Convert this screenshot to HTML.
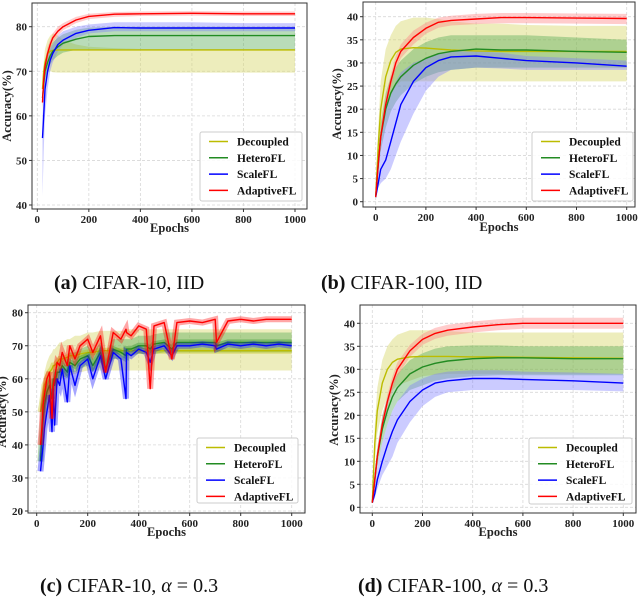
<!DOCTYPE html>
<html><head><meta charset="utf-8">
<style>
html,body{margin:0;padding:0;background:#fff;}
svg{display:block;font-family:"Liberation Serif",serif;}
.tk{font-size:11px;font-weight:bold;fill:#222;}
.al{font-size:12.5px;font-weight:bold;fill:#222;}
.lg{font-size:11.5px;font-weight:bold;fill:#111;}
.cap{font-size:20px;fill:#111;}
</style></head>
<body>
<svg id="fig" width="640" height="601" viewBox="0 0 640 601" xmlns="http://www.w3.org/2000/svg">
<text class="cap" x="54" y="289"><tspan font-weight="bold">(a)</tspan> CIFAR-10, IID</text>
<text class="cap" x="321" y="289"><tspan font-weight="bold">(b)</tspan> CIFAR-100, IID</text>
<text class="cap" x="40" y="592"><tspan font-weight="bold">(c)</tspan> CIFAR-10, <tspan font-style="italic">α</tspan> = 0.3</text>
<text class="cap" x="358" y="592"><tspan font-weight="bold">(d)</tspan> CIFAR-100, <tspan font-style="italic">α</tspan> = 0.3</text>
</svg>
<script>
// ---------- Panel A data (CIFAR-10, IID) ----------
const epA=[20,25,30,40,50,60,80,100,150,200,300,400,600,800,1000];
const decA=[66,70,72,74,74.5,74.7,74.8,74.8,74.8,74.8,74.8,74.8,74.8,74.8,74.8];
const decLoA=[64,67,69,70,70,69.8,69.7,69.7,69.7,69.7,69.7,69.7,69.7,69.7,69.7];
const decHiA=[68,72,75,77,78,78.5,78,77,76,75.5,75.2,75,75,75,75];
const hetA=[64,67,70,72,73.5,74.5,75.5,76.3,77.2,77.8,78,78,78,78,78];
const hetLoA=[62,65,68,70,71.5,72.5,73.5,74.2,74.8,74.8,74.8,74.8,74.8,74.8,74.8];
const hetHiA=[66,69,72,74,75.5,76.5,77.5,78.3,79.3,79.8,80,80,80,80,80];
const scaA=[55,60,66,70,72.5,74,76,77,78.5,79.2,79.8,79.7,79.7,79.7,79.7];
const scaLoA=[42,52,60,66,70,72,74.5,76,77.5,78.5,79,79,79,79,79];
const scaHiA=[60,64,69,73,75,76,78,79,80,80.5,81,81,81,80.8,80.8];
const adaA=[63,68,71,74,76,77.5,79,80,81.5,82.3,82.8,82.9,83,82.9,82.9];
const adaLoA=[61,66,69.5,72.5,75,76.5,78,79.2,80.8,81.7,82.2,82.4,82.5,82.4,82.4];
const adaHiA=[65,70,72.5,75.5,77,78.5,80,80.8,82.2,82.9,83.3,83.4,83.5,83.4,83.4];
const yTicksA=[40,50,60,70,80];
// ---------- Panel B data (CIFAR-100, IID) ----------
const epB=[0,10,20,40,60,80,100,150,200,250,300,400,500,600,800,1000];
const decB=[1,12,20,27,30.5,32.3,33,33.3,33.2,33,32.8,32.6,32.5,32.5,32.5,32.5];
const decLoB=[1,8,14,20,23,25,26,26,26,26,26,26,26,26,26,26];
const decHiB=[1,16,26,33,36,38,39,39.8,39.8,39.5,39,38.5,38.5,38.2,38,38];
const hetB=[1,8,14,20,23.5,25.5,27,29.5,31,32,32.5,33,32.8,32.8,32.5,32.3];
const hetLoB=[1,6,11,16,19.5,21.5,23,25.5,27,28,28.5,29,29,29,29,29];
const hetHiB=[1,10,17,23.5,27,29,30.5,33,34.5,35.5,36,36,36,36,35.5,35];
const scaB=[1,4,7,9,13,17,21,26,29,30.5,31.3,31.5,31,30.5,30,29.3];
const scaLoB=[1,3,4,5,7,10,13,19,24,27,28.5,29,28.8,28.5,28.5,28.5];
const scaHiB=[1,8,15,20,23,26,28,30,31,32,32.5,32.5,32.2,31.5,31,30.5];
const adaB=[1,8,14,21,26,30,32.5,35.5,37.5,38.8,39.2,39.5,39.8,39.8,39.7,39.6];
const adaLoB=[1,6.5,12.5,19.5,24.5,28.5,31,34,36.3,37.6,38.1,38.4,38.6,38.6,38.5,38.4];
const adaHiB=[1,9.5,15.5,22.5,27.5,31.5,34,37,38.7,39.8,40.2,40.6,40.8,40.8,40.7,40.6];
const yTicksB=[0,5,10,15,20,25,30,35,40];
// ---------- Panel C data (CIFAR-10, alpha=0.3) ----------
const epC=[15,20,25,30,40,50,60,65,70,80,90,100,120,130,150,170,200,220,250,270,300,330,350,352,370,400,430,445,460,500,530,550,600,650,700,705,750,800,850,900,950,1000];
const adaC=[40,45,52,55,60,62,48,58,60,65,64,68,64,70,66,70,72,68,73,62,74,72,75,74,73,76,75,57,76,77,66,77,77.5,77,78,71,77.5,78,77.5,78,78,78];
const scaC=[32,36,40,45,50,55,44,57,46,60,58,63,53,64,58,64,66,60,67,60,68,66,54,68,67,69,68,65,69,70,67,70,70,70.5,70,69,70.5,70,70.5,70,70.5,70];
const hetC=[35,42,48,52,56,58,54,60,58,62,62,64,62,65,64,66,67,64,68,63,69,68,67,69,69,70,70,69,70.5,71,69,71,71,71,71,70,71,71,71,71,71,71];
const hetLoC=[33,40,45,49,53,55,52,57,56,59,60,61,60,62,62,63,64,62,65,62,66,66,65,67,67,67.5,67.5,67,67.5,68,67.5,68,68,68,68,68,68,68,68,68,68,68];
const hetHiC=[38,45,51,55,59,61,58,63,62,65,65,67,66,68,68,69,70,68,71,68,72,72,72,72,72,73,73,73,73.5,74,74,74,74,74,74,74,74,74,74,74,74,74];
const decC=[50,52,55,58,60,62,63,64,64,65,66,66,66.5,67,67,67.5,68,68,68.5,68.5,68.5,68.5,68.5,68.5,68.5,68.5,68.5,68.5,68.5,68.5,68.5,68.5,68.5,68.5,68.5,68.5,68.5,68.5,68.5,68.5,68.5,68.5];
const decLoC=[48,49,51,53,55,56,57,58,58,59,60,60,61,61,61.5,62,62.5,62.5,62.5,62.5,62.5,62.5,62.5,62.5,62.5,62.5,62.5,62.5,62.5,62.5,62.5,62.5,62.5,62.5,62.5,62.5,62.5,62.5,62.5,62.5,62.5,62.5];
const decHiC=[52,55,59,62,65,67,68,69,69,70,71,71,72,72,73,73,74,74,74.5,74.5,74.5,74.5,74.5,75,75,75,75,75,75,75,75,75,75,75,75,75,75,75,75,75,75,75];
const yTicksC=[20,30,40,50,60,70,80];
// ---------- Panel D data (CIFAR-100, alpha=0.3) ----------
const epD=[0,10,20,40,60,80,100,150,200,250,300,400,500,600,800,1000];
const decD=[1,14,21,27,30,31.5,32.2,32.7,32.8,32.8,32.8,32.7,32.7,32.6,32.5,32.4];
const decLoD=[1,10,16,21,24,25.5,26.5,27.5,28.5,28.8,29,29,29,29,29,29];
const decHiD=[1,18,26,32,35,36.5,37.5,38.5,38.5,38.5,38.3,38,38,38,38,38];
const hetD=[1,6,11,17,21,24,26,29,30.5,31.3,31.8,32.3,32.5,32.5,32.3,32.3];
const hetLoD=[1,5,9,14,18,21,23,25.5,26.5,27.5,28,28.5,28.7,28.7,28.7,28.7];
const hetHiD=[1,8,13,20,24,27,29,32,33.5,34.5,35,35.2,35.2,35,35,35];
const scaD=[1,3,6,10,13.5,16.5,19,23,25.5,27,27.5,28,28,27.8,27.5,27];
const scaLoD=[1,2,4,7,9,11,14,18.5,22,24,25,25.5,25.5,25.5,25.5,25.2];
const scaHiD=[1,5,9,14,18,21,23,26.5,28,29,29.5,29.8,29.8,29.5,29.3,29];
const adaD=[1,6,11,18,23,27,30,34,36.5,37.8,38.5,39.2,39.7,40,40,40];
const adaLoD=[1,4.5,9.5,16.5,21.5,25.5,28.5,32.7,35.3,36.6,37.3,38,38.5,38.8,38.8,38.8];
const adaHiD=[1,7.5,12.5,19.5,24.5,28.5,31.5,35.3,37.7,39,39.7,40.4,40.9,41.2,41.2,41.2];
const yTicksD=[0,5,10,15,20,25,30,35,40];
const xTicks=[0,200,400,600,800,1000];
const legendNames=["Decoupled","HeteroFL","ScaleFL","AdaptiveFL"];

const NS="http://www.w3.org/2000/svg";
const svg=document.getElementById('fig');
const COL={dec:"#bcbc00",het:"#228b22",sca:"#0000ff",ada:"#ff0000"};
const FILL={dec:"#d8d86a",het:"#4fa84f",sca:"#7c7cff",ada:"#ff8080"};
function mk(tag,attrs,parent){const e=document.createElementNS(NS,tag);for(const k in attrs)e.setAttribute(k,attrs[k]);(parent||svg).appendChild(e);return e;}

function panel(P){
  const g=mk('g',{});
  
  
  const xs=v=>P.x0+(v-0)/1000*(P.x1-P.x0);
  const ys=v=>P.ya+(v-P.ymin)/(P.ymax-P.ymin)*(P.yb-P.ya);
  xTicks.forEach(t=>{const l=mk('line',{x1:xs(t),x2:xs(t),y1:P.box[1],y2:P.box[3],stroke:"#d8d8d8","stroke-dasharray":"3,2","stroke-width":0.8},g);
    });
  P.yt.forEach(t=>{const l=mk('line',{x1:P.box[0],x2:P.box[2],y1:ys(t),y2:ys(t),stroke:"#d8d8d8","stroke-dasharray":"3,2","stroke-width":0.8},g);
    });
  P.series.forEach(s=>{
    if(!s.lo)return;
    let d='';
    P.ep.forEach((e,i)=>{d+=(i?'L':'M')+xs(e).toFixed(1)+','+ys(s.hi[i]).toFixed(1);});
    for(let i=P.ep.length-1;i>=0;i--)d+='L'+xs(P.ep[i]).toFixed(1)+','+ys(s.lo[i]).toFixed(1);
    const p=mk('path',{d:d+'Z',fill:FILL[s.k],"fill-opacity":s.k==='dec'?0.45:0.4,stroke:"none"},g);
    
  });
  P.series.forEach(s=>{
    let d='';P.ep.forEach((e,i)=>{d+=(i?'L':'M')+xs(e).toFixed(1)+','+ys(s.v[i]).toFixed(1);});
    if(P.halo){const h=mk('path',{d:d,fill:"none",stroke:COL[s.k],"stroke-opacity":0.35,"stroke-width":6},g);
      }
    const l=mk('path',{d:d,fill:"none",stroke:COL[s.k],"stroke-width":1.4,"stroke-linejoin":"round"},g);
    
  });
  const b=P.box;
  const fr=mk('rect',{x:b[0],y:b[1],width:b[2]-b[0],height:b[3]-b[1],fill:"none",stroke:"#333","stroke-width":1},g);
  
  xTicks.forEach(t=>{mk('line',{x1:xs(t),x2:xs(t),y1:b[3],y2:b[3]+3,stroke:"#333"},g);
    const tx=mk('text',{x:xs(t),y:b[3]+14,"text-anchor":"middle",class:"tk"},g);tx.textContent=t;
    });
  P.yt.forEach(t=>{mk('line',{x1:b[0]-3,x2:b[0],y1:ys(t),y2:ys(t),stroke:"#333"},g);
    const tx=mk('text',{x:b[0]-5,y:ys(t)+4,"text-anchor":"end",class:"tk"},g);tx.textContent=t;
    });
  const xl=mk('text',{x:(b[0]+b[2])/2,y:P.xly,"text-anchor":"middle",class:"al"},g);xl.textContent="Epochs";
  
  const yl=mk('text',{x:0,y:0,"text-anchor":"middle",class:"al",transform:`translate(${P.ylx},${P.yly}) rotate(-90)`},g);yl.textContent="Accuracy(%)";
  
  const L=P.leg;
  const lg=mk('g',{},g);
  
  mk('rect',{x:L[0],y:L[1],width:L[2]-L[0],height:L[3]-L[1],fill:"#fff","fill-opacity":0.85,stroke:"#ccc",rx:2},lg);
  ['dec','het','sca','ada'].forEach((k,i)=>{
    const yy=L[1]+9.5+i*16.3;
    mk('line',{x1:L[0]+9,x2:L[0]+28,y1:yy,y2:yy,stroke:COL[k],"stroke-width":1.5},lg);
    const t=mk('text',{x:L[0]+37,y:yy+4,class:"lg"},lg);t.textContent=legendNames[i];
    
  });
}

panel({id:'a',box:[32,3,307,209],x0:37.3,x1:295,ymin:40,ymax:80,ya:205,yb:26.7,yt:yTicksA,ep:epA,
  series:[{k:'dec',v:decA,lo:decLoA,hi:decHiA},{k:'het',v:hetA,lo:hetLoA,hi:hetHiA},{k:'sca',v:scaA,lo:scaLoA,hi:scaHiA},{k:'ada',v:adaA,lo:adaLoA,hi:adaHiA}],
  xly:232,ylx:11,yly:106,leg:[200,132,302,201]});
panel({id:'b',box:[363,2,635,207],x0:375.7,x1:626.7,ymin:0,ymax:40,ya:201.7,yb:16.7,yt:yTicksB,ep:epB,
  series:[{k:'dec',v:decB,lo:decLoB,hi:decHiB},{k:'het',v:hetB,lo:hetLoB,hi:hetHiB},{k:'sca',v:scaB,lo:scaLoB,hi:scaHiB},{k:'ada',v:adaB,lo:adaLoB,hi:adaHiB}],
  xly:231,ylx:341,yly:104,leg:[532,132,633,201]});
panel({id:'c',box:[28,305,305,513],x0:36.7,x1:291.7,ymin:20,ymax:80,ya:511,yb:312.7,yt:yTicksC,ep:epC,halo:true,
  series:[{k:'dec',v:decC,lo:decLoC,hi:decHiC},{k:'het',v:hetC,lo:hetLoC,hi:hetHiC},{k:'sca',v:scaC},{k:'ada',v:adaC}],
  xly:536,ylx:6,yly:412,leg:[197,438,298,503]});
panel({id:'d',box:[360,305,636,513],x0:372.3,x1:623.3,ymin:0,ymax:40,ya:507.3,yb:323.3,yt:yTicksD,ep:epD,
  series:[{k:'dec',v:decD,lo:decLoD,hi:decHiD},{k:'het',v:hetD,lo:hetLoD,hi:hetHiD},{k:'sca',v:scaD,lo:scaLoD,hi:scaHiD},{k:'ada',v:adaD,lo:adaLoD,hi:adaHiD}],
  xly:536,ylx:338,yly:410,leg:[529,438,632,504]});
</script>
</body></html>
